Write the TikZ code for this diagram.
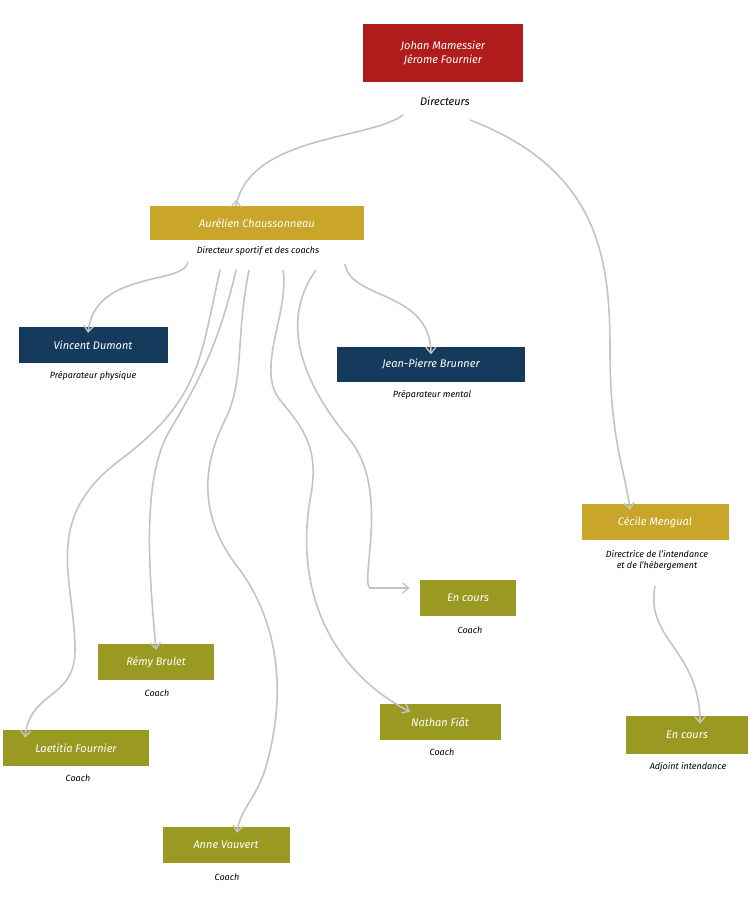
\documentclass[tikz,border=0pt]{standalone}
\usepackage{fontspec}
\setmainfont{Fira Sans}
\usetikzlibrary{arrows.meta}
\definecolor{cred}{HTML}{B01C1C}
\definecolor{cgold}{HTML}{C9A52A}
\definecolor{cnavy}{HTML}{163A5C}
\definecolor{colive}{HTML}{9A9A22}
\definecolor{cline}{HTML}{C4C4C4}
\tikzset{
  box/.style={rectangle,inner sep=0pt,text=white,font=\fontsize{11}{14}\selectfont\itshape,align=center},
  lbl/.style={inner sep=0pt,font=\fontsize{9}{11}\selectfont\itshape,align=center,text=black},
  link/.style={draw=cline,line width=1.6pt,-{Straight Barb[length=6pt,width=10pt,line width=1.4pt]}}
}
\begin{document}
\begin{tikzpicture}[x=1pt,y=-1pt]
\useasboundingbox (0,0) rectangle (751,912);
\fill[white] (0,0) rectangle (751,912);
% boxes
\node[box,fill=cred,minimum width=160,minimum height=58] (dir) at (443,53) {Johan Mamessier\\Jérome Fournier};
\node[lbl,font=\fontsize{11}{13}\selectfont\itshape] (dirl) at (445,101) {Directeurs};
\node[box,fill=cgold,minimum width=214,minimum height=34] (aur) at (257,223) {Aurélien Chaussonneau};
\node[lbl] (aurl) at (258,251) {Directeur sportif et des coachs};
\node[box,fill=cnavy,minimum width=149,minimum height=36] (vin) at (93,345) {Vincent Dumont};
\node[lbl] (vinl) at (93,376) {Préparateur physique};
\node[box,fill=cnavy,minimum width=188,minimum height=35] (jp) at (431,364) {Jean-Pierre Brunner};
\node[lbl] (jpl) at (432,395) {Préparateur mental};
\node[box,fill=cgold,minimum width=147,minimum height=36] (cec) at (655,522) {Cécile Mengual};
\node[lbl] (cecl) at (657,560) {Directrice de l'intendance\\ et de l'hébergement};
\node[box,fill=colive,minimum width=96,minimum height=36] (ec1) at (468,598) {En cours};
\node[lbl] (ec1l) at (470,630) {Coach};
\node[box,fill=colive,minimum width=116,minimum height=36] (rem) at (156,662) {Rémy Brulet};
\node[lbl] (reml) at (157,693) {Coach};
\node[box,fill=colive,minimum width=121,minimum height=36] (nat) at (440,722) {Nathan Fiât};
\node[lbl] (natl) at (442,752) {Coach};
\node[box,fill=colive,minimum width=146,minimum height=36] (lae) at (76,748) {Laetitia Fournier};
\node[lbl] (lael) at (78,778) {Coach};
\node[box,fill=colive,minimum width=127,minimum height=36] (ann) at (226,845) {Anne Vauvert};
\node[lbl] (annl) at (227,877) {Coach};
\node[box,fill=colive,minimum width=122,minimum height=38] (ec2) at (687,735) {En cours};
\node[lbl] (ec2l) at (688,767) {Adjoint intendance};
% connector endpoints
\coordinate (d1) at (403,115); \coordinate (d2) at (470,120);
\coordinate (a1) at (188,262); \coordinate (a2) at (345,264);
\coordinate (s1) at (220,270); \coordinate (s2) at (236,270);
\coordinate (s3) at (249,270); \coordinate (s4) at (283,270);
\coordinate (s5) at (316,270); \coordinate (c1) at (655,586);
% connectors
\draw[link] (d1) .. controls (370,140) and (250,135) .. (aur.north -| 236,0) ++(0,-6) coordinate (tA);
\draw[link] (d2) .. controls (600,170) and (610,260) .. (610,350) .. controls (610,440) and (625,470) .. ([xshift=-25pt,yshift=-6pt]cec.north);
\draw[link] (a1) .. controls (185,285) and (95,270) .. ([yshift=-6pt]vin.north -| 88,0);
\draw[link] (a2) .. controls (350,300) and (430,290) .. ([yshift=-8pt]jp.north);
\draw[link] (s1) .. controls (200,360) and (200,400) .. (120,460) .. controls (40,520) and (75,580) .. (75,650) .. controls (75,700) and (30,690) .. ([yshift=-8pt]lae.north -| 25,0);
\draw[link] (s2) .. controls (220,340) and (200,380) .. (170,430) .. controls (140,480) and (150,580) .. ([yshift=-6pt]rem.north);
\draw[link] (s3) .. controls (235,340) and (245,380) .. (225,420) .. controls (200,470) and (200,520) .. (240,570) .. controls (290,640) and (280,720) .. (265,770) .. controls (255,800) and (240,810) .. ([yshift=-6pt]ann.north -| 237,0);
\draw[link] (s4) .. controls (290,310) and (255,370) .. (280,400) .. controls (305,430) and (320,450) .. (310,500) .. controls (295,590) and (330,670) .. ([yshift=-8pt]nat.north -| 410,0);
\draw[link] (s5) .. controls (280,320) and (300,380) .. (350,440) .. controls (390,490) and (360,580) .. ([xshift=-50pt]ec1.west |- 0,588) -- ([xshift=-10pt]ec1.west |- 0,588);
\draw[link] (c1) .. controls (645,640) and (700,650) .. ([yshift=-8pt]ec2.north -| 700,0);
\end{tikzpicture}
\end{document}
